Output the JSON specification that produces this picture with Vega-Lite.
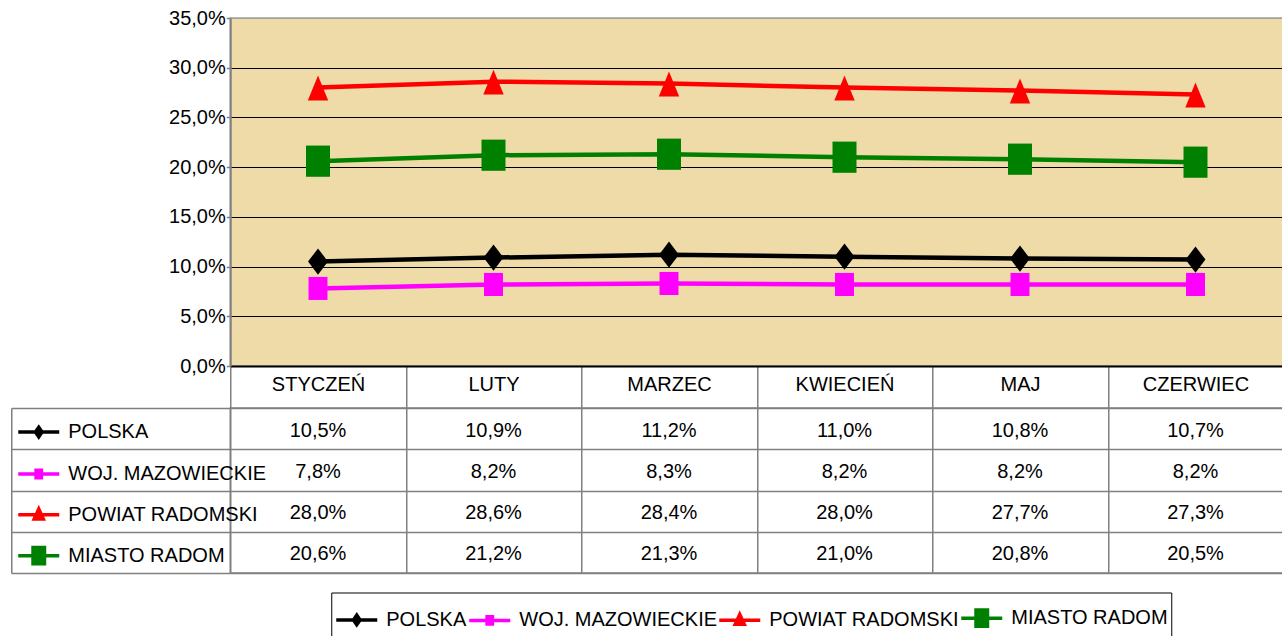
{
  "$schema": "https://vega.github.io/schema/vega-lite/v6.json",
  "padding": {"left": 9.25, "top": 7, "right": 0, "bottom": 0},
  "background": "white",
  "config": {
    "locale": {"number": {"decimal": ",", "thousands": " ", "grouping": [3], "currency": ["", " zł"]}},
    "font": "Liberation Sans",
    "view": {"stroke": null}
  },
  "datasets": {
    "d": [
      {"series": "POLSKA", "month": "STYCZEŃ", "value": 0.105},
      {"series": "POLSKA", "month": "LUTY", "value": 0.109},
      {"series": "POLSKA", "month": "MARZEC", "value": 0.112},
      {"series": "POLSKA", "month": "KWIECIEŃ", "value": 0.110},
      {"series": "POLSKA", "month": "MAJ", "value": 0.108},
      {"series": "POLSKA", "month": "CZERWIEC", "value": 0.107},
      {"series": "WOJ. MAZOWIECKIE", "month": "STYCZEŃ", "value": 0.078},
      {"series": "WOJ. MAZOWIECKIE", "month": "LUTY", "value": 0.082},
      {"series": "WOJ. MAZOWIECKIE", "month": "MARZEC", "value": 0.083},
      {"series": "WOJ. MAZOWIECKIE", "month": "KWIECIEŃ", "value": 0.082},
      {"series": "WOJ. MAZOWIECKIE", "month": "MAJ", "value": 0.082},
      {"series": "WOJ. MAZOWIECKIE", "month": "CZERWIEC", "value": 0.082},
      {"series": "POWIAT RADOMSKI", "month": "STYCZEŃ", "value": 0.280},
      {"series": "POWIAT RADOMSKI", "month": "LUTY", "value": 0.286},
      {"series": "POWIAT RADOMSKI", "month": "MARZEC", "value": 0.284},
      {"series": "POWIAT RADOMSKI", "month": "KWIECIEŃ", "value": 0.280},
      {"series": "POWIAT RADOMSKI", "month": "MAJ", "value": 0.277},
      {"series": "POWIAT RADOMSKI", "month": "CZERWIEC", "value": 0.273},
      {"series": "MIASTO RADOM", "month": "STYCZEŃ", "value": 0.206},
      {"series": "MIASTO RADOM", "month": "LUTY", "value": 0.212},
      {"series": "MIASTO RADOM", "month": "MARZEC", "value": 0.213},
      {"series": "MIASTO RADOM", "month": "KWIECIEŃ", "value": 0.210},
      {"series": "MIASTO RADOM", "month": "MAJ", "value": 0.208},
      {"series": "MIASTO RADOM", "month": "CZERWIEC", "value": 0.205}
    ]
  },
  "bounds": "flush",
  "spacing": 42,
  "resolve": {"scale": {"color": "independent"}, "legend": {"color": "independent"}},
  "vconcat": [
    {
      "width": 1053,
      "height": 348,
      "view": {"stroke": "#a0a0a0", "strokeWidth": 1.5, "fill": "#EFDBA8"},
      "data": {"name": "d"},
      "encoding": {
        "x": {
          "field": "month", "type": "nominal",
          "sort": ["STYCZEŃ", "LUTY", "MARZEC", "KWIECIEŃ", "MAJ", "CZERWIEC"],
          "scale": {"type": "band", "paddingInner": 0, "paddingOuter": 0},
          "axis": {
            "orient": "bottom", "title": null, "labelAngle": 0,
            "domainColor": "black", "domainWidth": 2,
            "ticks": true, "tickBand": "extent", "tickSize": 42, "tickColor": "#808080", "tickWidth": 1.5,
            "labelPadding": -34, "labelFontSize": 20, "labelColor": "black", "labelFont": "Liberation Sans",
            "grid": false
          }
        },
        "y": {
          "field": "value", "type": "quantitative",
          "scale": {"domain": [0, 0.35], "nice": false, "zero": true},
          "axis": {
            "title": null,
            "values": [0, 0.05, 0.1, 0.15, 0.2, 0.25, 0.3, 0.35],
            "format": ".1%",
            "domainColor": "#808080", "domainWidth": 2,
            "tickColor": "#808080", "tickSize": 4, "tickWidth": 1.5,
            "labelPadding": 1, "labelFontSize": 20, "labelColor": "black", "labelFont": "Liberation Sans",
            "grid": true,
            "gridColor": {"condition": {"test": "datum.value >= 0.35", "value": "#a0a0a0"}, "value": "black"},
            "gridWidth": 1
          }
        },
        "color": {
          "field": "series", "type": "nominal",
          "sort": ["POLSKA", "WOJ. MAZOWIECKIE", "POWIAT RADOMSKI", "MIASTO RADOM"],
          "scale": {"domain": ["POLSKA", "WOJ. MAZOWIECKIE", "POWIAT RADOMSKI", "MIASTO RADOM"], "range": ["#000000", "#FF00FF", "#FF0000", "#008000"]},
          "legend": {
            "orient": "none", "legendX": 101, "legendY": 574.5,
            "direction": "horizontal", "title": null,
            "symbolSize": 1681, "labelOffset": 7, "columnPadding": -12,
            "padding": 3, "strokeColor": "black", "fillColor": "white",
            "labelFontSize": 20, "labelFont": "Liberation Sans", "labelLimit": 500, "labelColor": "black",
            "symbolStrokeWidth": 3.5, "symbolOpacity": 1,
            "encode": {
              "symbols": {
                "update": {
                  "shape": {"signal": "datum.value === 'POLSKA' ? 'M-1,0L1,0M-0.16,0L0,-0.23L0.16,0L0,0.23Z' : datum.value === 'WOJ. MAZOWIECKIE' ? 'M-1,0L1,0M-0.13,-0.18L0.13,-0.18L0.13,0.18L-0.13,0.18Z' : datum.value === 'POWIAT RADOMSKI' ? 'M-1,0L1,0M0,-0.28L0.22,0.2L-0.22,0.2Z' : 'M-1,0L1,0M-0.28,-0.4L0.28,-0.4L0.28,0.4L-0.28,0.4Z'"},
                  "size": {"value": 1681},
                  "fill": {"signal": "datum.value === 'POLSKA' ? '#000000' : datum.value === 'WOJ. MAZOWIECKIE' ? '#FF00FF' : datum.value === 'POWIAT RADOMSKI' ? '#FF0000' : '#008000'"},
                  "stroke": {"signal": "datum.value === 'POLSKA' ? '#000000' : datum.value === 'WOJ. MAZOWIECKIE' ? '#FF00FF' : datum.value === 'POWIAT RADOMSKI' ? '#FF0000' : '#008000'"},
                  "strokeWidth": {"value": 3.5},
                  "opacity": {"value": 1}
                }
              }
            }
          }
        }
      },
      "layer": [
        {"mark": {"type": "line", "strokeWidth": 4.5}},
        {
          "mark": {"type": "point", "filled": true, "opacity": 1, "size": 576, "strokeWidth": 0},
          "encoding": {
            "shape": {
              "field": "series", "type": "nominal",
              "scale": {
                "domain": ["POLSKA", "WOJ. MAZOWIECKIE", "POWIAT RADOMSKI", "MIASTO RADOM"],
                "range": ["M-0.83,0L0,-1.1L0.83,0L0,1.1Z", "M-0.79,-0.96L0.79,-0.96L0.79,0.96L-0.79,0.96Z", "M0,-1L0.85,1.08L-0.85,1.08Z", "M-1,-1.3L1,-1.3L1,1.3L-1,1.3Z"]
              },
              "legend": null
            }
          }
        }
      ]
    },
    {
      "width": 1053,
      "height": 165,
      "view": {"stroke": "#808080", "strokeWidth": 1.5, "fill": "white"},
      "data": {"name": "d"},
      "encoding": {
        "x": {
          "field": "month", "type": "nominal",
          "sort": ["STYCZEŃ", "LUTY", "MARZEC", "KWIECIEŃ", "MAJ", "CZERWIEC"],
          "scale": {"type": "band", "paddingInner": 0, "paddingOuter": 0},
          "axis": {"orient": "bottom", "title": null, "labels": false, "ticks": false, "domain": false, "grid": true, "gridColor": "#808080", "gridWidth": 1.5, "tickBand": "extent"}
        },
        "y": {
          "field": "series", "type": "nominal",
          "sort": ["POLSKA", "WOJ. MAZOWIECKIE", "POWIAT RADOMSKI", "MIASTO RADOM"],
          "scale": {"type": "band", "paddingInner": 0, "paddingOuter": 0},
          "axis": {
            "title": null, "labels": false,
            "domain": true, "domainColor": "#808080", "domainWidth": 1.5,
            "offset": 219,
            "ticks": true, "tickSize": -219, "tickColor": "#808080", "tickWidth": 1.5,
            "tickBand": "extent",
            "grid": true, "gridColor": "#808080", "gridWidth": 1.5
          }
        }
      },
      "layer": [
        {
          "mark": {"type": "text", "fontSize": 20, "color": "black", "font": "Liberation Sans", "dy": 2},
          "encoding": {"text": {"field": "value", "type": "quantitative", "format": ".1%"}}
        },
        {
          "mark": {"type": "point", "opacity": 0, "filled": true},
          "encoding": {
            "color": {
              "field": "series", "type": "nominal",
              "sort": ["POLSKA", "WOJ. MAZOWIECKIE", "POWIAT RADOMSKI", "MIASTO RADOM"],
              "scale": {"domain": ["POLSKA", "WOJ. MAZOWIECKIE", "POWIAT RADOMSKI", "MIASTO RADOM"], "range": ["#000000", "#FF00FF", "#FF0000", "#008000"]},
              "legend": {
                "orient": "none", "legendX": -214, "legendY": 1.6,
                "direction": "vertical", "title": null,
                "symbolSize": 1681, "labelOffset": 7, "rowPadding": 6.85,
                "padding": 0,
                "labelFontSize": 20, "labelFont": "Liberation Sans", "labelLimit": 500, "labelColor": "black",
                "symbolStrokeWidth": 3.5, "symbolOpacity": 1,
                "encode": {
                  "symbols": {
                    "update": {
                      "shape": {"signal": "datum.value === 'POLSKA' ? 'M-1,0L1,0M-0.16,0L0,-0.23L0.16,0L0,0.23Z' : datum.value === 'WOJ. MAZOWIECKIE' ? 'M-1,0L1,0M-0.13,-0.18L0.13,-0.18L0.13,0.18L-0.13,0.18Z' : datum.value === 'POWIAT RADOMSKI' ? 'M-1,0L1,0M0,-0.28L0.22,0.2L-0.22,0.2Z' : 'M-1,0L1,0M-0.28,-0.4L0.28,-0.4L0.28,0.4L-0.28,0.4Z'"},
                      "size": {"value": 1681},
                      "fill": {"signal": "datum.value === 'POLSKA' ? '#000000' : datum.value === 'WOJ. MAZOWIECKIE' ? '#FF00FF' : datum.value === 'POWIAT RADOMSKI' ? '#FF0000' : '#008000'"},
                      "stroke": {"signal": "datum.value === 'POLSKA' ? '#000000' : datum.value === 'WOJ. MAZOWIECKIE' ? '#FF00FF' : datum.value === 'POWIAT RADOMSKI' ? '#FF0000' : '#008000'"},
                      "strokeWidth": {"value": 3.5},
                      "opacity": {"value": 1}
                    }
                  }
                }
              }
            }
          }
        }
      ]
    }
  ]
}
